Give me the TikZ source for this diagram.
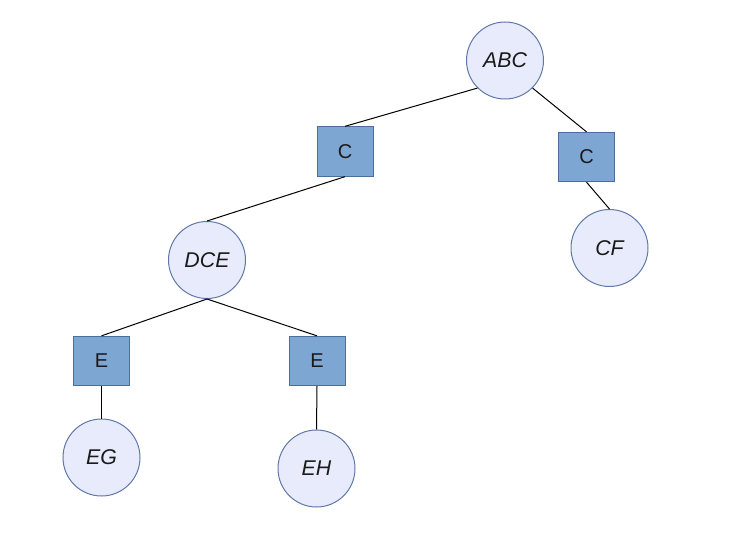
\documentclass[tikz,border=0pt]{standalone}
\usepackage{fontspec}
\setmainfont{Liberation Sans}
\usepackage{tikz}
\definecolor{setfill}{HTML}{E8EBFB}
\definecolor{setdraw}{HTML}{6078A8}
\definecolor{keyfill}{HTML}{7EA6D3}
\definecolor{keydraw}{HTML}{4D6E9A}
\definecolor{labtext}{HTML}{1A1A1A}

\begin{document}
\begin{tikzpicture}[x=0.75pt,y=-0.75pt,line width=0.75pt,
                        set node/.style={circle,draw=setdraw,fill=setfill,inner sep=0pt,
                          minimum size=57.75pt,text=labtext,font=\fontsize{16}{19}\selectfont\itshape},
                        key node/.style={rectangle,draw=keydraw,fill=keyfill,inner sep=0pt,
                          minimum width=42pt,minimum height=37pt,text=labtext,font=\fontsize{15}{18}\selectfont}]

      \useasboundingbox (0,0) rectangle (736,535);

      \node[set node] (1) at (505,60.5) {ABC};
      \node[key node] (2) at (345,151.5) {C};
      \node[key node] (3) at (586.5,157) {C};
      \node[set node] (4) at (207,260) {DCE};
      \node[set node] (5) at (609.5,248) {CF};
      \node[key node] (6) at (101.5,361) {E};
      \node[key node] (7) at (317,361) {E};
      \node[set node] (8) at (101.5,457.5) {EG};
      \node[set node] (9) at (316.5,468.5) {EH};
      \path[draw=black]
        (1.south west) edge (2.north)
        (1.south east) edge (3.north)
        (2.south) edge (4.north)
        (3.south) edge (5.north)
        (4.south) edge (6.north)
        (4.south) edge (7.north)
        (6.south) edge (8.north)
        (7.south) edge (9.north);
    \end{tikzpicture}
\end{document}
